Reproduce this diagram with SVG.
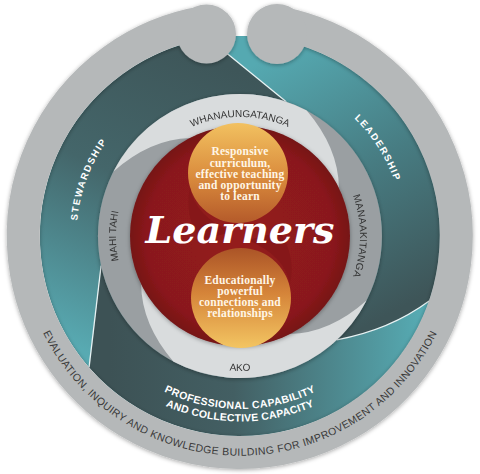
<svg xmlns="http://www.w3.org/2000/svg" width="480" height="474" viewBox="0 0 480 474">
<style>
.eval{font-family:"Liberation Sans",Arial,sans-serif;font-size:10.5px;fill:#3a3a3a;letter-spacing:0.4px}
.teal{font-family:"Liberation Sans",Arial,sans-serif;font-weight:bold;fill:#ffffff}
.band{font-family:"Liberation Sans",Arial,sans-serif;font-size:10px;fill:#333333}
.ct{font-family:"Liberation Serif","Times New Roman",serif;font-weight:bold;font-size:11.5px;fill:#fff6e6;text-anchor:middle;letter-spacing:0.2px}
.divider{fill:none;stroke:#e8f3f4;stroke-width:1.3}
</style>
<defs>
 <linearGradient id="gStew" gradientUnits="userSpaceOnUse" x1="190" y1="50" x2="60" y2="340">
  <stop offset="0" stop-color="#3e5659"/><stop offset="0.45" stop-color="#44666a"/><stop offset="1" stop-color="#58aab2"/>
 </linearGradient>
 <linearGradient id="gLead" gradientUnits="userSpaceOnUse" x1="290" y1="45" x2="425" y2="295">
  <stop offset="0" stop-color="#55a9b1"/><stop offset="0.5" stop-color="#477c82"/><stop offset="1" stop-color="#3e5558"/>
 </linearGradient>
 <linearGradient id="gProf" gradientUnits="userSpaceOnUse" x1="110" y1="340" x2="420" y2="340">
  <stop offset="0" stop-color="#3d5255"/><stop offset="0.4" stop-color="#435f63"/><stop offset="1" stop-color="#56aab2"/>
 </linearGradient>
 <radialGradient id="gRed" cx="240" cy="236" r="110" gradientUnits="userSpaceOnUse">
  <stop offset="0" stop-color="#951b1e"/><stop offset="0.85" stop-color="#8a191b"/><stop offset="1" stop-color="#761416"/>
 </radialGradient>
 <linearGradient id="gOrTop" x1="0" y1="0" x2="0" y2="1">
  <stop offset="0" stop-color="#f2c160"/><stop offset="0.55" stop-color="#d98a3c"/><stop offset="1" stop-color="#b45a2a"/>
 </linearGradient>
 <linearGradient id="gOrBot" x1="0" y1="0" x2="0" y2="1">
  <stop offset="0" stop-color="#ab5427"/><stop offset="0.45" stop-color="#d58439"/><stop offset="1" stop-color="#f3c562"/>
 </linearGradient>
 <filter id="shadow" x="-20%" y="-20%" width="140%" height="140%">
  <feDropShadow dx="0" dy="1" stdDeviation="2" flood-color="#000" flood-opacity="0.35"/>
 </filter>
 <path id="pStew" d="M86.4,291.9 A163.5,163.5 0 0 1 160.7,93"/>
 <path id="pLead" d="M288,79.2 A164,164 0 0 1 402.4,258.8"/>
 <path id="pProf1" d="M107.5,347.2 A173,173 0 0 0 372.5,347.2"/>
 <path id="pProf2" d="M97.9,355.2 A185.5,185.5 0 0 0 382.1,355.2"/>
 <path id="pEval" d="M23.8,274.1 A219.5,219.5 0 0 0 456.2,274.1"/>
 <path id="pWhan" d="M148.8,159.5 A119,119 0 0 1 331.2,159.5"/>
 <path id="pAko" d="M172.5,352.9 A135,135 0 0 0 307.5,352.9"/>
 <path id="pMahi" d="M145,315.7 A124,124 0 0 1 145,156.3"/>
 <path id="pMana" d="M331.9,158.9 A120,120 0 0 1 331.9,313.1"/>
</defs>

<rect width="480" height="474" fill="#ffffff"/>

<!-- teal band -->
<g id="teal-band">
 <circle cx="240" cy="236" r="200" fill="#4a8a90"/>
 <g id="stewardship">
  <path d="M208.7,38.5 A200,200 0 0 0 89.1,367.2 Q95,318 101.1,265.5 A142,142 0 0 1 286.2,101.7 Z" fill="url(#gStew)"/>
  <text class="teal" font-size="9.5" letter-spacing="1.5"><textPath href="#pStew" startOffset="50%" text-anchor="middle">STEWARDSHIP</textPath></text>
 </g>
 <g id="professional">
  <path d="M89.1,367.2 A200,200 0 0 0 429.1,301.1 Q390,330 336.8,339.9 A142,142 0 0 1 101.1,265.5 Q95,318 89.1,367.2 Z" fill="url(#gProf)"/>
  <text class="teal" font-size="10.5" letter-spacing="0.4"><textPath href="#pProf1" startOffset="50%" text-anchor="middle">PROFESSIONAL CAPABILITY</textPath></text>
  <text class="teal" font-size="10.5" letter-spacing="0.2"><textPath href="#pProf2" startOffset="50%" text-anchor="middle">AND COLLECTIVE CAPACITY</textPath></text>
 </g>
 <g id="leadership">
  <path d="M429.1,301.1 A200,200 0 0 0 208.7,38.5 L286.2,101.7 A142,142 0 0 1 336.8,339.9 Q390,330 429.1,301.1 Z" fill="url(#gLead)"/>
  <text class="teal" font-size="9.5" letter-spacing="1.5"><textPath href="#pLead" startOffset="50%" text-anchor="middle">LEADERSHIP</textPath></text>
 </g>
 <g id="dividers">
  <path class="divider" d="M208.7,38.5 L286.2,101.7"/>
  <path class="divider" d="M101.1,265.5 Q95,318 89.1,367.2"/>
  <path class="divider" d="M429.1,301.1 Q390,330 336.8,339.9"/>
 </g>
</g>

<!-- inner gray ring -->
<g id="inner-ring" filter="url(#shadow)">
 <path d="M240,94 A142,142 0 1 1 239.9,94 Z M240,128 A108,108 0 1 0 240.1,128 Z" fill="#9a9fa2" fill-rule="evenodd"/>
 <g id="whanaungatanga">
  <path d="M113.5,171.5 A142,142 0 0 1 306.7,110.6 Q338.4,147.8 338.9,187.8 A110,110 0 0 0 190.1,138 Q150,139.1 113.5,171.5 Z" fill="#d9dcdd"/>
  <text class="band"><textPath href="#pWhan" startOffset="50%" text-anchor="middle">WHANAUNGATANGA</textPath></text>
 </g>
 <g id="ako">
  <path d="M366.5,300.5 A142,142 0 0 1 173.3,361.4 Q141.6,324.2 141.1,284.2 A110,110 0 0 0 289.9,334 Q330,333 366.5,300.5 Z" fill="#d9dcdd"/>
  <text class="band"><textPath href="#pAko" startOffset="50%" text-anchor="middle">AKO</textPath></text>
 </g>
 <g id="mahi-tahi">
  <text class="band"><textPath href="#pMahi" startOffset="50%" text-anchor="middle">MAHI TAHI</textPath></text>
 </g>
 <g id="manaakitanga">
  <text class="band" letter-spacing="0.3"><textPath href="#pMana" startOffset="50%" text-anchor="middle">MANAAKITANGA</textPath></text>
 </g>
</g>

<!-- centre -->
<g id="learners">
 <circle cx="240" cy="236" r="110" fill="url(#gRed)" filter="url(#shadow)"/>
 <g id="curriculum">
  <circle cx="238" cy="173" r="50" fill="url(#gOrTop)"/>
  <path d="M190,188 Q195,216 232,232 L 200,240 Q184,215 190,188 Z" fill="#861719"/>
  <text class="ct" x="240" y="155">Responsive</text>
  <text class="ct" x="240" y="166.5">curriculum,</text>
  <text class="ct" x="240" y="177.5">effective teaching</text>
  <text class="ct" x="240" y="188.5">and opportunity</text>
  <text class="ct" x="240" y="199.5">to learn</text>
 </g>
 <g id="connections">
  <circle cx="241" cy="298" r="50" fill="url(#gOrBot)"/>
  <path d="M290,284 Q285,256 248,240 L 280,232 Q296,257 290,284 Z" fill="#861719"/>
  <text class="ct" x="240" y="283.5">Educationally</text>
  <text class="ct" x="240" y="295">powerful</text>
  <text class="ct" x="240" y="306">connections and</text>
  <text class="ct" x="240" y="317">relationships</text>
 </g>
 <text x="240" y="243" text-anchor="middle" font-family="'DejaVu Serif','Liberation Serif',serif" font-weight="bold" font-style="italic" font-size="38" fill="#ffffff">Learners</text>
</g>

<!-- outer koru ring -->
<g id="evaluation">
 <g filter="url(#shadow)" fill="#b5b8b9">
  <path d="M279.1,23.1 A216.5,216.5 0 1 1 205,22.3" fill="none" stroke="#b5b8b9" stroke-width="33"/>
  <circle cx="206.5" cy="34" r="29.5"/>
  <circle cx="277" cy="34" r="30"/>
 </g>
 <text class="eval"><textPath href="#pEval" startOffset="50%" text-anchor="middle">EVALUATION, INQUIRY AND KNOWLEDGE BUILDING FOR IMPROVEMENT AND INNOVATION</textPath></text>
</g>
</svg>
